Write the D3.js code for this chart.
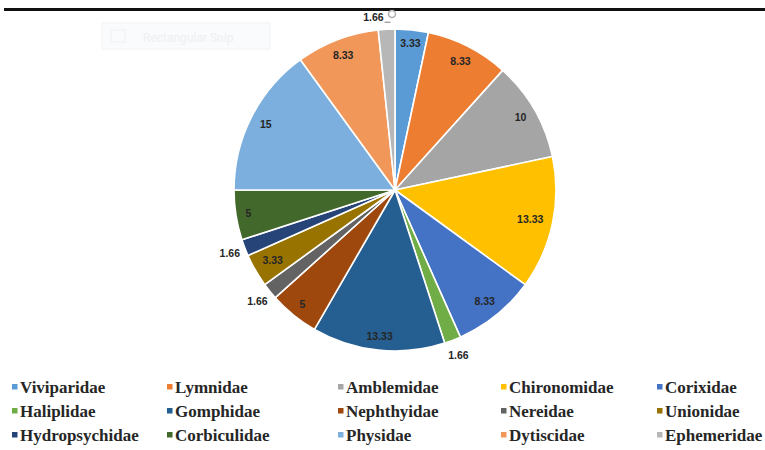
<!DOCTYPE html>
<html>
<head>
<meta charset="utf-8">
<script src="https://cdn.jsdelivr.net/npm/d3@7"></script>
<style>
  html, body { margin: 0; padding: 0; background: #fff; }
  svg { display: block; }
  .legend-label { font-family: "Liberation Serif", "Times New Roman", "DejaVu Serif", serif; font-weight: 700; }
  .value-label { font-family: "Liberation Sans", Arial, sans-serif; font-weight: 700; }
</style>
</head>
<body>
<svg id="chart" width="765" height="450"></svg>
<script>
// Family names, in slice order (clockwise from 12 o'clock)
const families = [
  "Viviparidae", "Lymnidae", "Amblemidae", "Chironomidae", "Corixidae",
  "Haliplidae", "Gomphidae", "Nephthyidae", "Nereidae", "Unionidae",
  "Hydropsychidae", "Corbiculidae", "Physidae", "Dytiscidae", "Ephemeridae"
];
// Relative abundance (%)
const percents = [
  3.33, 8.33, 10, 13.33, 8.33,
  1.66, 13.33, 5, 1.66, 3.33,
  1.66, 5, 15, 8.33, 1.66
];
const sliceColors = [
  "#5b9bd5", "#ed7d31", "#a5a5a5", "#ffc000", "#4472c4",
  "#70ad47", "#255e91", "#9e480e", "#636363", "#997300",
  "#264478", "#43682b", "#7cafdd", "#f1975a", "#b7b7b7"
];

const svg = d3.select("#chart");

// Header rule and the faint toolbar overlay near the top
svg.append("rect").attr("x", 4).attr("y", 8).attr("width", 761).attr("height", 3).attr("fill", "#111");
svg.append("circle").attr("cx", 392).attr("cy", 14).attr("r", 3.5)
  .attr("fill", "none").attr("stroke", "#b0b0b0").attr("stroke-width", 1.5);
const snip = svg.append("g").attr("opacity", 0.55);
snip.append("rect").attr("x", 102).attr("y", 23).attr("width", 168).attr("height", 26)
  .attr("fill", "#f6f8fa").attr("stroke", "#e8ecf0");
snip.append("rect").attr("x", 111).attr("y", 30).attr("width", 14).attr("height", 12)
  .attr("fill", "none").attr("stroke", "#e2e6ea");
snip.append("text").attr("x", 143).attr("y", 42).text("Rectangular Snip")
  .attr("font-family", "Roboto, sans-serif").attr("font-size", 12).attr("fill", "#dfe4e9");

// Pie
const cx = 395, cy = 190, R = 161;
const pie = d3.pie().sort(null).value(d => d.v).startAngle(0).endAngle(2 * Math.PI);
const data = families.map((f, i) => ({ name: f, v: percents[i], color: sliceColors[i] }));
const arcs = pie(data);
const arc = d3.arc().innerRadius(0).outerRadius(R);

const g = svg.append("g").attr("transform", `translate(${cx},${cy})`);
g.selectAll("path.slice").data(arcs).join("path")
  .attr("class", "slice")
  .attr("d", arc)
  .attr("fill", d => d.data.color)
  .attr("stroke", "#fff")
  .attr("stroke-width", 1.6)
  .attr("stroke-linejoin", "round");

// Value labels: inside the end of larger slices, outside for the thinnest ones
const fs = 10.5;
const charW = t => t.split("").reduce((s, c) => s + (c === "." ? 2.8 : 5.6), 0) * fs / 10;

arcs.forEach(a => {
  const mid = (a.startAngle + a.endAngle) / 2;
  const s = Math.sin(mid), c = -Math.cos(mid);
  const txt = String(a.data.v);
  const w = charW(txt), h = 7.5;
  if (a.data.v > 2) {
    const ext = Math.abs(s) * w / 2 + Math.abs(c) * h / 2;
    const rr = R - 9 - ext;
    g.append("text").attr("class", "value-label")
      .attr("x", rr * s).attr("y", rr * c)
      .attr("dy", "0.36em")
      .attr("text-anchor", "middle")
      .attr("font-size", fs).attr("fill", "#262626")
      .text(txt);
  } else if (a.index === arcs.length - 1) {
    // top slice: label set to the left with a short leader
    const ex = R * s, ey = R * c;
    g.append("line")
      .attr("x1", ex - 2).attr("y1", ey - 7).attr("x2", ex + 4).attr("y2", ey - 7)
      .attr("stroke", "#7f7f7f").attr("stroke-width", 1);
    g.append("text").attr("class", "value-label")
      .attr("x", ex - 3).attr("y", ey - 8)
      .attr("text-anchor", "end")
      .attr("font-size", fs).attr("fill", "#262626")
      .text(txt);
  } else {
    const rr = R + 16;
    g.append("text").attr("class", "value-label")
      .attr("x", rr * s).attr("y", rr * c)
      .attr("dy", "0.36em")
      .attr("text-anchor", "middle")
      .attr("font-size", fs).attr("fill", "#262626")
      .text(txt);
  }
});

// Legend: 5 columns x 3 rows
const colX = [12, 167, 338, 501, 657];
const rowY = [387, 411, 435];
const legend = svg.append("g");
data.forEach((d, i) => {
  const col = i % 5, row = Math.floor(i / 5);
  const x = colX[col], y = rowY[row];
  legend.append("rect")
    .attr("x", x).attr("y", y - 3).attr("width", 5.5).attr("height", 5.5)
    .attr("fill", d.color);
  legend.append("text").attr("class", "legend-label")
    .attr("x", x + 8).attr("y", y)
    .attr("dy", "0.35em")
    .attr("font-size", 17)
    .attr("fill", "#262626")
    .text(d.name);
});
</script>
</body>
</html>
